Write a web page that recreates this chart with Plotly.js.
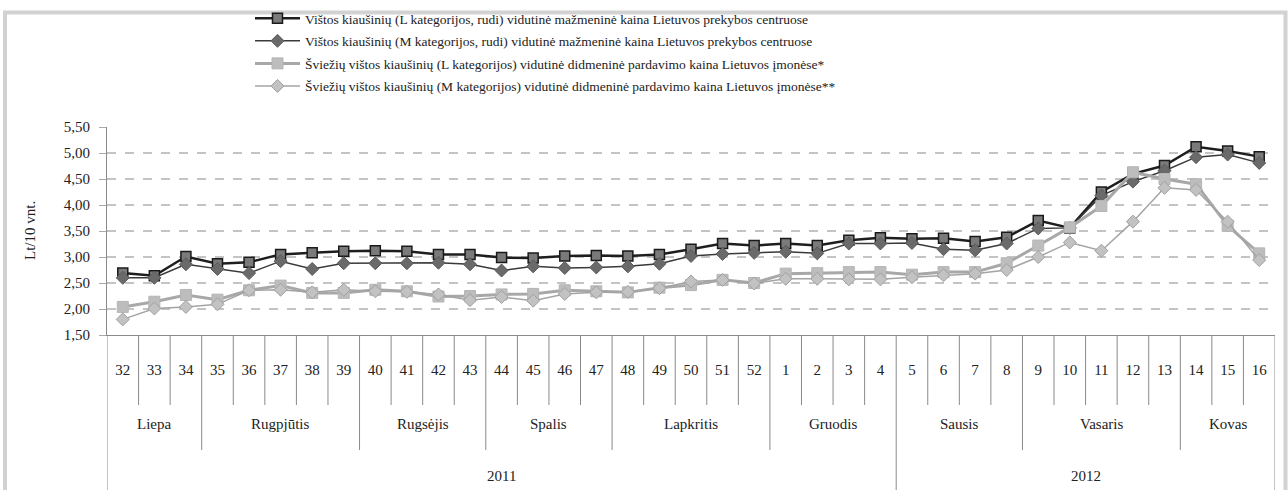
<!DOCTYPE html>
<html>
<head>
<meta charset="utf-8">
<script src="https://cdn.plot.ly/plotly-3.0.1.min.js"></script>
<style>
html,body{margin:0;padding:0;background:#fff;}
#chart{width:1288px;height:490px;}
</style>
</head>
<body>
<div id="chart"></div>
<script>
// ---- data ----
var weeks = ['32','33','34','35','36','37','38','39','40','41','42','43','44','45','46','47','48','49','50','51','52',
             '1','2','3','4','5','6','7','8','9','10','11','12','13','14','15','16'];

var retailL = [2.69, 2.64, 3.01, 2.87, 2.90, 3.05, 3.08, 3.11,
               3.12, 3.11, 3.05, 3.05, 2.99, 2.98, 3.02,
               3.03, 3.02, 3.05, 3.15, 3.26, 3.22,
               3.26, 3.22, 3.32, 3.37, 3.35, 3.36, 3.30, 3.38,
               3.70, 3.56, 4.25, 4.60, 4.76, 5.12, 5.04, 4.93];

var retailM = [2.60, 2.60, 2.86, 2.77, 2.69, 2.92, 2.77, 2.88,
               2.88, 2.88, 2.89, 2.86, 2.74, 2.82, 2.79,
               2.80, 2.82, 2.87, 3.02, 3.06, 3.08,
               3.10, 3.07, 3.26, 3.26, 3.27, 3.15, 3.13, 3.26,
               3.55, 3.56, 4.18, 4.45, 4.66, 4.92, 4.97, 4.81];

var wholesaleL = [2.04, 2.14, 2.27, 2.18, 2.36, 2.45, 2.31, 2.31,
                  2.37, 2.34, 2.24, 2.25, 2.28, 2.29, 2.36,
                  2.34, 2.32, 2.41, 2.46, 2.56, 2.50,
                  2.68, 2.69, 2.71, 2.71, 2.66, 2.71, 2.71, 2.88,
                  3.22, 3.57, 3.98, 4.63, 4.50, 4.40, 3.60, 3.07];

var wholesaleM = [1.80, 2.01, 2.04, 2.09, 2.36, 2.37, 2.32, 2.37,
                  2.34, 2.33, 2.28, 2.17, 2.23, 2.16, 2.29,
                  2.32, 2.33, 2.40, 2.53, 2.56, 2.49,
                  2.58, 2.58, 2.57, 2.57, 2.61, 2.65, 2.68, 2.75,
                  3.00, 3.28, 3.12, 3.68, 4.33, 4.29, 3.68, 2.94];

var seriesNames = [
  'Vištos kiaušinių (L kategorijos, rudi) vidutinė mažmeninė kaina Lietuvos prekybos centruose',
  'Vištos kiaušinių (M kategorijos, rudi) vidutinė mažmeninė kaina Lietuvos prekybos centruose',
  'Šviežių vištos kiaušinių (L kategorijos) vidutinė didmeninė pardavimo kaina Lietuvos įmonėse*',
  'Šviežių vištos kiaušinių (M kategorijos) vidutinė didmeninė pardavimo kaina Lietuvos įmonėse**'
];

var months = ['Liepa','Rugpjūtis','Rugsėjis','Spalis','Lapkritis','Gruodis','Sausis','Vasaris','Kovas'];
var monthSpans = [3,5,4,4,5,4,4,5,3];
var years = ['2011','2012'];
var yearSpans = [25,12];

var yTitle = 'Lt/10 vnt.';

// ---- chart ----
var FONT = '"Liberation Serif", "DejaVu Serif", serif';

var traces = [
  {x: weeks, y: retailL, name: seriesNames[0], type: 'scatter', mode: 'lines+markers', legendgroup: 'a',
   line: {color: '#1e1e1e', width: 2.5},
   marker: {symbol: 'square', size: 10, color: '#7a7a7a', line: {color: '#1a1a1a', width: 1.5}}},
  {x: weeks, y: retailM, name: seriesNames[1], type: 'scatter', mode: 'lines+markers', legendgroup: 'b',
   line: {color: '#3a3a3a', width: 1.5},
   marker: {symbol: 'diamond', size: 10, color: '#6a6a6a', line: {color: '#5a5a5a', width: 1}}},
  {x: weeks, y: wholesaleL, name: seriesNames[2], type: 'scatter', mode: 'lines+markers', legendgroup: 'c',
   line: {color: '#a8a8a8', width: 3},
   marker: {symbol: 'square', size: 11, color: '#bdbdbd', line: {color: '#b5b5b5', width: 1}}},
  {x: weeks, y: wholesaleM, name: seriesNames[3], type: 'scatter', mode: 'lines+markers', legendgroup: 'd',
   line: {color: '#a4a4a4', width: 1.5},
   marker: {symbol: 'diamond', size: 10, color: '#c2c2c2', line: {color: '#a0a0a0', width: 1}}}
];

// axis geometry in paper units (plot: y 127..335 px, x 107..1275 px)
var plotH = 208;
function py(px) { return (335 - px) / plotH; }
var pxX = function(px){ return (px - 107) / 1168; };

var shapes = [];
var annotations = [];

// boundaries
var monthBounds = {};
var c = 0;
monthBounds[0] = true;
monthSpans.forEach(function(s){ c += s; monthBounds[c] = true; });
var yearBounds = {};
c = 0; yearBounds[0] = true;
yearSpans.forEach(function(s){ c += s; yearBounds[c] = true; });

for (var i = 0; i <= weeks.length; i++) {
  var y1;
  if (yearBounds[i]) y1 = py(495);
  else if (monthBounds[i]) y1 = py(450);
  else y1 = py(405);
  shapes.push({type: 'line', xref: 'x', yref: 'paper', x0: i - 0.5, x1: i - 0.5, y0: 0, y1: y1,
               line: {color: '#8a8a8a', width: 1}});
}

c = 0;
months.forEach(function(m, k){
  var mid = c + monthSpans[k] / 2 - 0.5;
  annotations.push({xref: 'x', yref: 'paper', x: mid, y: py(424), text: m, showarrow: false,
                    font: {family: FONT, size: 15, color: '#222'}, xanchor: 'center', yanchor: 'middle'});
  c += monthSpans[k];
});
c = 0;
years.forEach(function(yv, k){
  var mid = c + yearSpans[k] / 2 - 0.5;
  annotations.push({xref: 'x', yref: 'paper', x: mid, y: py(476), text: yv, showarrow: false,
                    font: {family: FONT, size: 15, color: '#222'}, xanchor: 'center', yanchor: 'middle'});
  c += yearSpans[k];
});

// y-axis title (rotated)
annotations.push({xref: 'paper', yref: 'paper', x: pxX(30), y: 0.5, text: yTitle, showarrow: false,
                  textangle: -90, xanchor: 'center', yanchor: 'middle',
                  font: {family: FONT, size: 15, color: '#222'}});

// outer light-gray frame
shapes.push({type: 'rect', xref: 'paper', yref: 'paper', x0: pxX(5), x1: pxX(1285.5), y0: py(520), y1: py(12.5),
             line: {color: '#d2d2d2', width: 4}, fillcolor: 'rgba(0,0,0,0)', layer: 'below'});

var layout = {
  width: 1288, height: 490,
  margin: {l: 107, r: 13, t: 127, b: 155, pad: 0, autoexpand: false},
  paper_bgcolor: '#ffffff', plot_bgcolor: '#ffffff',
  separators: ', ',
  font: {family: FONT, size: 15, color: '#222'},
  showlegend: true,
  legend: {xref: 'container', yref: 'container', x: 250 / 1288, xanchor: 'left', y: 1 - 3 / 490, yanchor: 'top',
           orientation: 'v',
           font: {family: FONT, size: 13.5, color: '#222'}, itemwidth: 45, tracegroupgap: 2,
           bgcolor: 'rgba(0,0,0,0)', borderwidth: 0},
  xaxis: {type: 'category', range: [-0.5, weeks.length - 0.5], showgrid: false, zeroline: false,
          showline: true, linecolor: '#8a8a8a', linewidth: 1, ticks: '', ticklabelstandoff: 21,
          tickfont: {family: FONT, size: 15, color: '#222'}, fixedrange: true},
  yaxis: {range: [1.5, 5.5], dtick: 0.5, tick0: 1.5, tickformat: '.2f', showgrid: true,
          gridcolor: '#c4c4c4', griddash: 'dash', gridwidth: 1.3, zeroline: false,
          showline: true, linecolor: '#8a8a8a', linewidth: 1, ticks: 'outside', ticklen: 7,
          tickcolor: '#aaaaaa', ticklabelstandoff: 6,
          tickfont: {family: FONT, size: 15, color: '#222'}},
  shapes: shapes,
  annotations: annotations
};

Plotly.newPlot('chart', traces, layout, {staticPlot: true, displayModeBar: false});
</script>
</body>
</html>
